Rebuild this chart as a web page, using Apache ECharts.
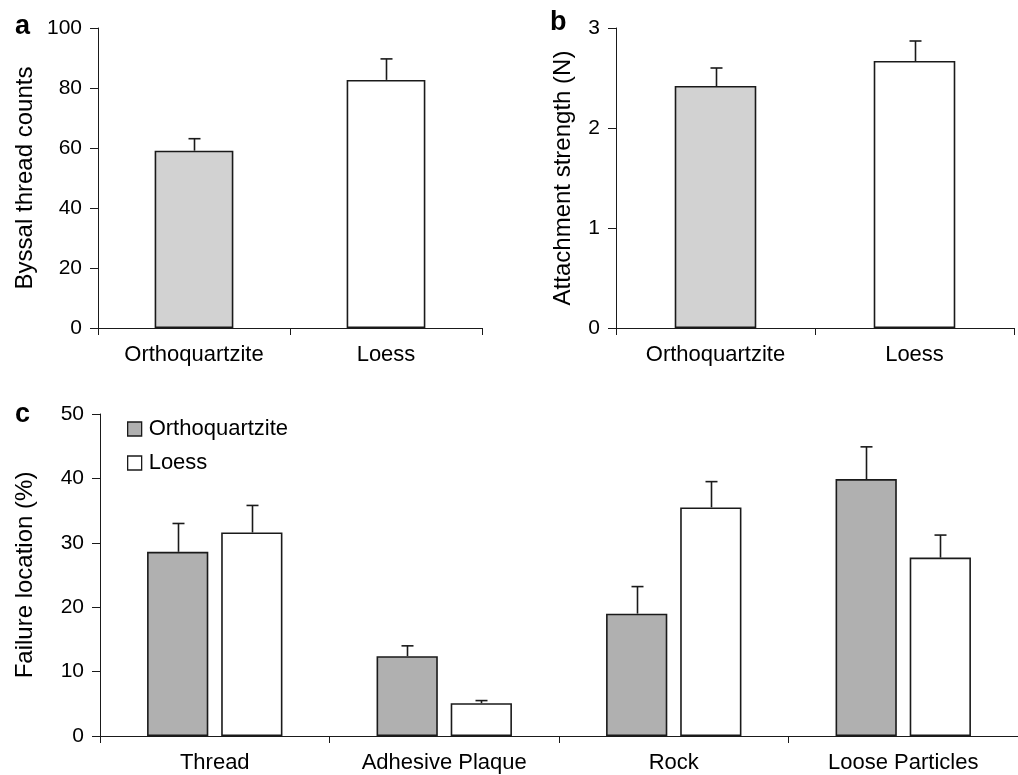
<!DOCTYPE html>
<html>
<head>
<meta charset="utf-8">
<script src="https://cdn.jsdelivr.net/npm/echarts@6/dist/echarts.min.js"></script>
<style>
html,body{margin:0;padding:0;background:#fff;}
#chart{width:1018px;height:775px;}
</style>
</head>
<body>
<div id="chart"></div>
<script>
// ---- data ----
const substrateCategories = ['Orthoquartzite', 'Loess'];
const threadCounts = [59.1, 82.7];
const threadCountsErrTop = [63.1, 89.7];
const attachStrength = [2.42, 2.67];
const attachStrengthErrTop = [2.60, 2.87];
const failureCategories = ['Thread', 'Adhesive Plaque', 'Rock', 'Loose Particles'];
const failureOrtho = [28.6, 12.4, 19.0, 39.9];
const failureOrthoErrTop = [33.0, 14.0, 23.2, 44.9];
const failureLoess = [31.6, 5.1, 35.5, 27.7];
const failureLoessErrTop = [35.8, 5.5, 39.5, 31.2];
const yTicksA = {min: 0, max: 100, interval: 20};
const yTicksB = {min: 0, max: 3, interval: 1};
const yTicksC = {min: 0, max: 50, interval: 10};

// ---- style ----
const FONT = "'Liberation Sans', Arial, Helvetica, sans-serif";
const INK = '#1a1a1a';
const LIGHT_GRAY = '#d2d2d2';
const MID_GRAY = '#b0b0b0';
const WHITE = '#ffffff';
const C_CAT_GAP = 0.41, C_BAR_GAP = 0.21;

const chart = echarts.init(document.getElementById('chart'), null, {renderer: 'canvas'});

function xAxis(gridIndex, data) {
  return {
    type: 'category', gridIndex, data,
    axisLine: {lineStyle: {color: INK, width: 1}},
    axisTick: {show: true, length: 7, interval: 0, lineStyle: {color: INK}},
    axisLabel: {color: '#000', fontSize: 22, fontFamily: FONT, margin: 16, interval: 0},
    splitLine: {show: false}
  };
}
function yAxis(gridIndex, ticks, name, nameGap) {
  return {
    type: 'value', gridIndex, min: ticks.min, max: ticks.max, interval: ticks.interval,
    name, nameLocation: 'middle', nameGap,
    nameTextStyle: {color: '#000', fontSize: 24, fontFamily: FONT},
    axisLine: {show: true, lineStyle: {color: INK, width: 1}},
    axisTick: {show: true, length: 8, lineStyle: {color: INK}},
    axisLabel: {color: '#000', fontSize: 21, fontFamily: FONT, margin: 16},
    splitLine: {show: false}
  };
}
function errRender(sign, nSeries) {
  return function (params, api) {
    const x = api.value(0), v = api.value(1), top = api.value(2);
    const p0 = api.coord([x, v]);
    const p1 = api.coord([x, top]);
    const band = api.size([1, 0])[0];
    let off = 0;
    if (nSeries === 2) {
      const bw = band * (1 - C_CAT_GAP) / (2 + C_BAR_GAP);
      off = sign * bw * (1 + C_BAR_GAP) / 2;
    }
    const cx = Math.round(p0[0] + off) + 0.5;
    const st = {stroke: INK, lineWidth: 1.6};
    return {
      type: 'group',
      children: [
        {type: 'line', shape: {x1: cx, y1: p0[1], x2: cx, y2: p1[1]}, style: st},
        {type: 'line', shape: {x1: cx - 6, y1: p1[1], x2: cx + 6, y2: p1[1]}, style: st}
      ]
    };
  };
}
function errData(vals, tops) {
  return vals.map((v, i) => [i, v, tops[i]]);
}

const option = {
  backgroundColor: '#fff',
  animation: false,
  textStyle: {fontFamily: FONT},
  grid: [
    {left: 98, right: 536, top: 28, bottom: 447},
    {left: 616, right: 4, top: 28, bottom: 447},
    {left: 100, right: -10, top: 414, bottom: 39}
  ],
  xAxis: [
    xAxis(0, substrateCategories),
    xAxis(1, substrateCategories),
    xAxis(2, failureCategories)
  ],
  yAxis: [
    yAxis(0, yTicksA, 'Byssal thread counts', 61),
    yAxis(1, yTicksB, 'Attachment strength (N)', 41),
    yAxis(2, yTicksC, 'Failure location (%)', 63)
  ],
  legend: {
    data: ['Orthoquartzite', 'Loess'],
    orient: 'vertical', left: 127, top: 418, padding: 0,
    itemWidth: 14, itemHeight: 14, itemGap: 12,
    icon: 'rect',
    itemStyle: {borderColor: INK, borderWidth: 1.3},
    textStyle: {color: '#000', fontSize: 22, fontFamily: FONT, padding: [0, 0, 0, 2]}
  },
  graphic: [
    {type: 'text', left: 15, top: 13, style: {text: 'a', font: 'bold 27px ' + FONT, fill: '#000'}},
    {type: 'text', left: 550, top: 9, style: {text: 'b', font: 'bold 27px ' + FONT, fill: '#000'}},
    {type: 'text', left: 15, top: 401, style: {text: 'c', font: 'bold 27px ' + FONT, fill: '#000'}}
  ],
  series: [
    {
      name: 'threadBars', type: 'bar', xAxisIndex: 0, yAxisIndex: 0, barCategoryGap: '59%',
      itemStyle: {borderColor: INK, borderWidth: 1.6},
      data: threadCounts.map((v, i) => ({value: v, itemStyle: {color: i === 0 ? LIGHT_GRAY : WHITE}}))
    },
    {
      name: 'threadErr', type: 'custom', xAxisIndex: 0, yAxisIndex: 0, z: 5,
      renderItem: errRender(0, 1), data: errData(threadCounts, threadCountsErrTop)
    },
    {
      name: 'strengthBars', type: 'bar', xAxisIndex: 1, yAxisIndex: 1, barCategoryGap: '59%',
      itemStyle: {borderColor: INK, borderWidth: 1.6},
      data: attachStrength.map((v, i) => ({value: v, itemStyle: {color: i === 0 ? LIGHT_GRAY : WHITE}}))
    },
    {
      name: 'strengthErr', type: 'custom', xAxisIndex: 1, yAxisIndex: 1, z: 5,
      renderItem: errRender(0, 1), data: errData(attachStrength, attachStrengthErrTop)
    },
    {
      name: 'Orthoquartzite', type: 'bar', xAxisIndex: 2, yAxisIndex: 2,
      barCategoryGap: (C_CAT_GAP * 100) + '%', barGap: (C_BAR_GAP * 100) + '%',
      itemStyle: {color: MID_GRAY, borderColor: INK, borderWidth: 1.6},
      data: failureOrtho
    },
    {
      name: 'Loess', type: 'bar', xAxisIndex: 2, yAxisIndex: 2,
      barCategoryGap: (C_CAT_GAP * 100) + '%', barGap: (C_BAR_GAP * 100) + '%',
      itemStyle: {color: WHITE, borderColor: INK, borderWidth: 1.6},
      data: failureLoess
    },
    {
      name: 'orthoErr', type: 'custom', xAxisIndex: 2, yAxisIndex: 2, z: 5,
      renderItem: errRender(-1, 2), data: errData(failureOrtho, failureOrthoErrTop)
    },
    {
      name: 'loessErr', type: 'custom', xAxisIndex: 2, yAxisIndex: 2, z: 5,
      renderItem: errRender(1, 2), data: errData(failureLoess, failureLoessErrTop)
    }
  ]
};
chart.setOption(option);
</script>
</body>
</html>
